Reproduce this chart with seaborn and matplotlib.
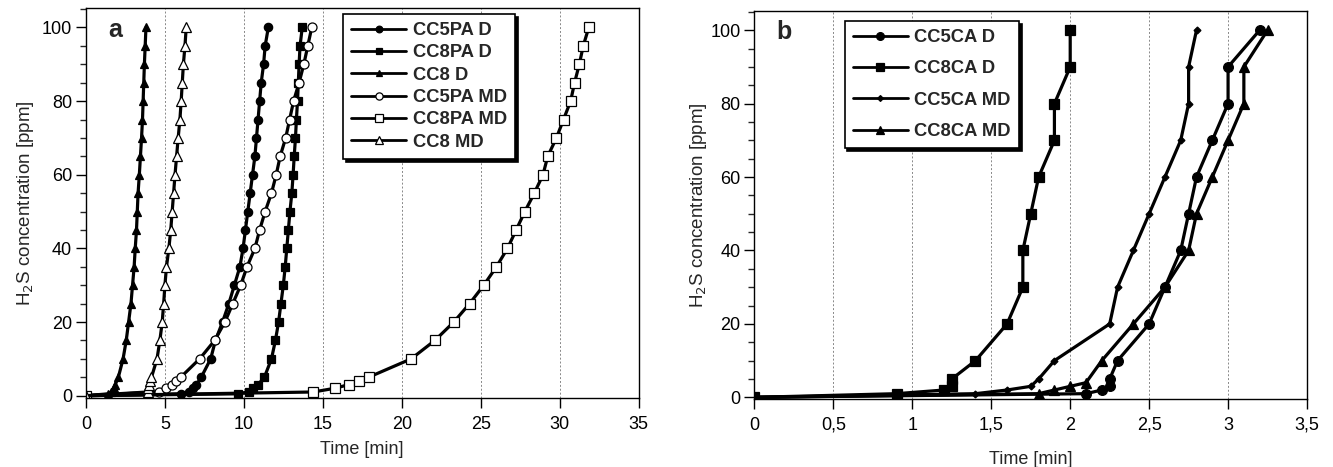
import numpy as np
import pandas as pd
import matplotlib
matplotlib.use("Agg")
import matplotlib.pyplot as plt
import seaborn as sns
from matplotlib.ticker import AutoMinorLocator, FuncFormatter, MultipleLocator

# ---------------------------------------------------------
# DATA
# ---------------------------------------------------------
steps = [10, 15, 20, 25, 30, 35, 40, 45, 50, 55, 60, 65, 70, 75, 80, 85, 90, 95, 100]

# panel a
y_cc5pa_d = [0, 0.5, 1, 2, 3, 5] + steps
x_cc5pa_d = [0, 6.0, 6.5, 6.8, 7.0, 7.3, 7.9, 8.2, 8.65, 9.05, 9.4, 9.75, 9.95, 10.1, 10.25,
             10.4, 10.55, 10.7, 10.8, 10.9, 11.0, 11.1, 11.25, 11.35, 11.55]
y_cc8pa_d = [0, 0.5, 1, 2, 3, 5] + steps
x_cc8pa_d = [0, 9.6, 10.3, 10.6, 10.9, 11.3, 11.75, 12.0, 12.2, 12.35, 12.5, 12.62, 12.72,
             12.82, 12.92, 13.04, 13.12, 13.19, 13.27, 13.33, 13.4, 13.45, 13.5, 13.56, 13.7]
y_cc8_d = [0, 0.5, 1, 2, 3, 5] + steps
x_cc8_d = [0, 1.4, 1.6, 1.75, 1.85, 2.05, 2.35, 2.55, 2.7, 2.85, 2.95, 3.05, 3.12, 3.2, 3.25,
           3.3, 3.38, 3.45, 3.52, 3.58, 3.62, 3.66, 3.7, 3.75, 3.8]
y_cc5pa_md = [0, 1, 2, 3, 4, 5] + steps
x_cc5pa_md = [0, 4.6, 5.1, 5.45, 5.7, 6.0, 7.2, 8.15, 8.8, 9.3, 9.8, 10.2, 10.7, 11.0, 11.35,
              11.75, 12.05, 12.3, 12.65, 12.9, 13.15, 13.5, 13.8, 14.05, 14.3]
y_cc8pa_md = [0, 1, 2, 3, 4, 5] + steps
x_cc8pa_md = [0, 14.4, 15.75, 16.65, 17.3, 17.9, 20.6, 22.1, 23.3, 24.3, 25.2, 26.0, 26.7,
              27.25, 27.8, 28.4, 28.95, 29.25, 29.8, 30.25, 30.7, 30.95, 31.25, 31.5, 31.85]
y_cc8_md = [0, 1, 2, 3, 4, 5] + steps
x_cc8_md = [0, 3.9, 3.95, 4.0, 4.05, 4.15, 4.5, 4.68, 4.83, 4.92, 5.0, 5.1, 5.25, 5.37, 5.46,
            5.55, 5.64, 5.74, 5.84, 5.95, 6.03, 6.1, 6.17, 6.27, 6.35]

# panel b
y_cc5ca_d = [0, 1, 2, 3, 5, 10, 20, 30, 40, 50, 60, 70, 80, 90, 100]
x_cc5ca_d = [0, 2.1, 2.2, 2.25, 2.25, 2.3, 2.5, 2.6, 2.7, 2.75, 2.8, 2.9, 3.0, 3.0, 3.2]
y_cc8ca_d = [0, 1, 2, 3, 5, 10, 20, 30, 40, 50, 60, 70, 80, 90, 100]
x_cc8ca_d = [0, 0.9, 1.2, 1.25, 1.25, 1.4, 1.6, 1.7, 1.7, 1.75, 1.8, 1.9, 1.9, 2.0, 2.0]
y_cc5ca_md = [0, 1, 2, 3, 5, 10, 20, 30, 40, 50, 60, 70, 80, 90, 100]
x_cc5ca_md = [0, 1.4, 1.6, 1.75, 1.8, 1.9, 2.25, 2.3, 2.4, 2.5, 2.6, 2.7, 2.75, 2.75, 2.8]
y_cc8ca_md = [0, 1, 2, 3, 4, 10, 20, 30, 40, 50, 60, 70, 80, 90, 100]
x_cc8ca_md = [0, 1.8, 1.9, 2.0, 2.1, 2.2, 2.4, 2.6, 2.75, 2.8, 2.9, 3.0, 3.1, 3.1, 3.25]

# series: (label, x, y, marker, facecolor, markersize)
series_a = [
    ("CC5PA D", x_cc5pa_d, y_cc5pa_d, "o", "black", 6),
    ("CC8PA D", x_cc8pa_d, y_cc8pa_d, "s", "black", 6),
    ("CC8 D", x_cc8_d, y_cc8_d, "^", "black", 6),
    ("CC5PA MD", x_cc5pa_md, y_cc5pa_md, "o", "white", 6.5),
    ("CC8PA MD", x_cc8pa_md, y_cc8pa_md, "s", "white", 6.5),
    ("CC8 MD", x_cc8_md, y_cc8_md, "^", "white", 6.5),
]
series_b = [
    ("CC5CA D", x_cc5ca_d, y_cc5ca_d, "o", "black", 7),
    ("CC8CA D", x_cc8ca_d, y_cc8ca_d, "s", "black", 7),
    ("CC5CA MD", x_cc5ca_md, y_cc5ca_md, "D", "black", 3.5),
    ("CC8CA MD", x_cc8ca_md, y_cc8ca_md, "^", "black", 7),
]

# ---------------------------------------------------------
# STYLE
# ---------------------------------------------------------
sns.set_style("ticks")
plt.rcParams["font.family"] = ["Liberation Sans", "DejaVu Sans"]
plt.rcParams["axes.linewidth"] = 1.0

fig = plt.figure(figsize=(13.33, 4.67), dpi=100)
fig.patch.set_facecolor("white")
ax_a = fig.add_axes([0.0645, 0.148, 0.4145, 0.835])
ax_b = fig.add_axes([0.566, 0.146, 0.4145, 0.831])


def draw_panel(ax, series, letter, xmax, xstep, ymin, legend_anchor, spacing,
               xlabelpad, ylabelpad, comma=False):
    for name, xs, ys, mk, fc, ms in series:
        df = pd.DataFrame({"t": xs, "c": ys})
        sns.lineplot(data=df, x="t", y="c", ax=ax, sort=False, estimator=None,
                     color="black", linewidth=2.3, marker=mk, markersize=ms,
                     markerfacecolor=fc, markeredgecolor="black", markeredgewidth=0.9,
                     label=name)

    ax.set_xlim(0, xmax)
    ax.set_ylim(ymin, 105.3)
    ax.xaxis.set_major_locator(MultipleLocator(xstep))
    ax.yaxis.set_major_locator(MultipleLocator(20))
    ax.yaxis.set_minor_locator(AutoMinorLocator(4))
    if comma:
        ax.xaxis.set_major_formatter(FuncFormatter(lambda v, p: f"{v:g}".replace(".", ",")))
    ax.tick_params(axis="both", which="major", direction="out", length=7, width=1,
                   labelsize=13, colors="black")
    ax.tick_params(axis="x", which="major", pad=6)
    ax.tick_params(axis="y", which="major", pad=3)
    ax.tick_params(axis="y", which="minor", direction="out", length=4, width=1)
    ax.grid(axis="x", which="major", color="#888888", linestyle=(0, (2, 2)), linewidth=0.7)
    for sp in ax.spines.values():
        sp.set_visible(True)
        sp.set_color("black")

    ax.set_xlabel("Time [min]", fontsize=13, labelpad=xlabelpad)
    ax.set_ylabel("H$_2$S concentration [ppm]", fontsize=13.5, labelpad=ylabelpad)
    ax.text(0.04, 0.975, letter, transform=ax.transAxes, fontsize=18,
            fontweight="bold", ha="left", va="top")

    leg = ax.legend(loc="upper left", bbox_to_anchor=legend_anchor, borderaxespad=0,
                    frameon=True, fancybox=False, edgecolor="black", framealpha=1,
                    shadow={"color": "black", "alpha": 1}, handlelength=3.0,
                    handletextpad=0.35, labelspacing=spacing,
                    prop={"weight": "bold", "size": 13.2}, borderpad=0.45)
    leg.get_frame().set_linewidth(1.2)
    for h in leg.legend_handles:
        h.set_linewidth(2.0)
        h.set_markersize(max(h.get_markersize() * 0.8, 3))


draw_panel(ax_a, series_a, "a", 35, 5, -0.6, (0.465, 0.985), 0.29, 6, 4)
draw_panel(ax_b, series_b, "b", 3.5, 0.5, -0.4, (0.163, 0.974), 0.78, 12, 1, comma=True)

plt.savefig("out.png", dpi=100, facecolor="white")
plt.close()
